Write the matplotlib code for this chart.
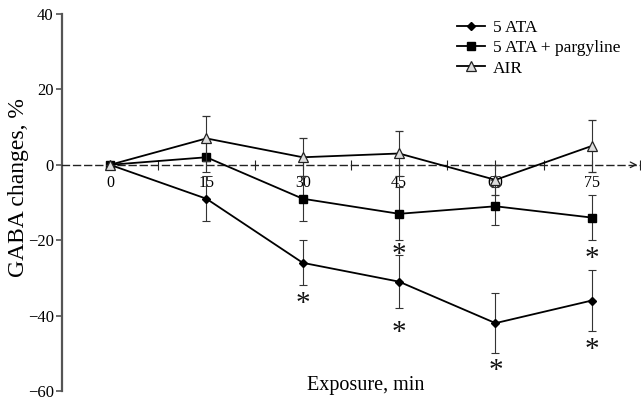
import matplotlib
matplotlib.use("Agg")
import matplotlib.pyplot as plt
from matplotlib.ticker import MultipleLocator
from matplotlib.lines import Line2D

plt.rcParams['font.family'] = ['Liberation Serif', 'DejaVu Serif']

time = [0, 15, 30, 45, 60, 75]
ata = [0, -9, -26, -31, -42, -36]
ata_err = [0, 6, 6, 7, 8, 8]
parg = [0, 2, -9, -13, -11, -14]
parg_err = [0, 4, 6, 7, 5, 6]
air = [0, 7, 2, 3, -4, 5]
air_err = [0, 6, 5, 6, 4, 7]
labels = ["5 ATA", "5 ATA + pargyline", "AIR"]
xticks = [0, 15, 30, 45, 60, 75]
yticks = [-60, -40, -20, 0, 20, 40]
# significance marks (x, y)
star_x = [30, 45, 45, 60, 75, 75]
star_y = [-37, -23.8, -44.5, -54.8, -25, -49]

fig = plt.figure(figsize=(6.41, 4.00), dpi=100)
ax = fig.add_axes([62/641, 9/400, 578/641, 377/400])
ax.set_xlim(-7.48, 82.5)
ax.set_ylim(-60, 40)

ebkw = dict(ecolor='#333333', elinewidth=0.8, capsize=3, capthick=0.8)
styles = [
    dict(marker='D', ms=4.5, mfc='black', mec='black'),
    dict(marker='s', ms=6, mfc='black', mec='black'),
    dict(marker='^', ms=7, mfc='#dddddd', mec='#222222', mew=0.9),
]
series = [(ata, ata_err), (parg, parg_err), (air, air_err)]
for (vals, errs), st, z in zip(series, styles, [4, 4, 5]):
    ax.errorbar(time, vals, yerr=errs, color='black', lw=1.3, zorder=z, **st, **ebkw)

for sx, sy in zip(star_x, star_y):
    ax.text(sx, sy, '*', ha='center', va='center', fontsize=21, color='#111111')

# spines
for s in ['top', 'right']:
    ax.spines[s].set_visible(False)
ax.spines['left'].set_color('#555555')
ax.spines['left'].set_linewidth(1.6)
ax.spines['bottom'].set_position(('data', 0))
ax.spines['bottom'].set_linestyle((0, (5, 3)))
ax.spines['bottom'].set_color('#222222')
ax.spines['bottom'].set_linewidth(1.0)

ax.set_xticks(xticks)
ax.xaxis.set_minor_locator(MultipleLocator(7.5))
ax.tick_params(axis='x', which='both', direction='inout', length=7, width=0.8,
               labelsize=11.5, pad=4, color='#222222')
ax.set_yticks(yticks)
ax.set_yticklabels([str(v).replace('-', '\u2212') for v in yticks])
ax.tick_params(axis='y', direction='out', length=4, width=1.2, labelsize=12,
               color='#555555', pad=2)

# arrow at right end of x-axis
ax.annotate('', xy=(1.0, 0), xycoords=('axes fraction', 'data'),
            xytext=(0.985, 0), textcoords=('axes fraction', 'data'),
            arrowprops=dict(arrowstyle='->', color='#222222', lw=0.9))

ax.set_ylabel('GABA changes, %', fontsize=17)
ax.yaxis.set_label_coords(-(62 - 29) / 578, (391 - 188) / 377)
ax.set_xlabel('Exposure, min', fontsize=14.5)
ax.xaxis.set_label_coords((366 - 62) / 578, 0.04)

handles = [Line2D([], [], color='black', lw=1.3, **st) for st in styles]
ax.legend(handles, labels, loc='upper left', bbox_to_anchor=(0.672, 1.004), frameon=False,
          fontsize=12.5, handlelength=1.6, handletextpad=0.45, labelspacing=0.25,
          borderaxespad=0)

fig.savefig('out.png', dpi=100)
